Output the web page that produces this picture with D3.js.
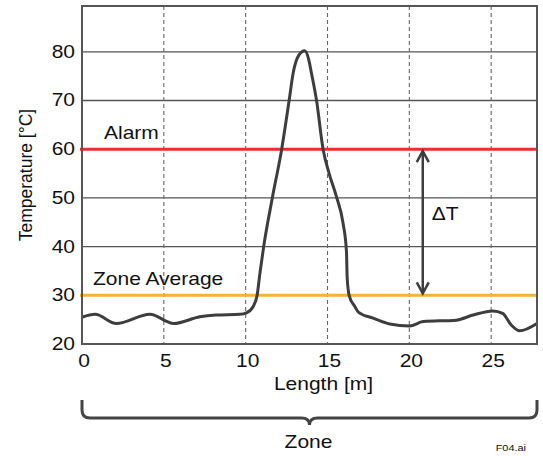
<!DOCTYPE html>
<html>
<head>
<meta charset="utf-8">
<script src="https://cdn.jsdelivr.net/npm/d3@7"></script>
<style>
  body { margin: 0; background: #fff; }
  text { font-family: "Liberation Sans", Arial, sans-serif; fill: #111; }
</style>
</head>
<body>
<div id="chart"></div>
<script>
// temperature profile along the cable
var lengths = [0, 0.8, 2.1, 4.15, 5.6, 7.2, 8.2, 9.65, 10.05, 10.46, 10.7, 10.87, 11.1, 11.64, 12.19, 12.66, 12.9, 13.25,
    13.61, 13.86, 14.02, 14.33, 14.73, 15.1, 15.55, 15.95, 16.16, 16.2, 16.32, 16.67, 16.9, 17.79, 18.8, 20.02, 20.84,
    22.87, 23.9, 25.1, 25.7, 26.23, 26.74, 27.8];
var temps = [25.5, 26.1, 24.2, 26.1, 24.2, 25.6, 25.95, 26.1, 26.4, 27.7, 30, 34.5, 40, 50.2, 59.8, 70.1, 75.6, 79.3,
    80.2, 78.3, 75.6, 70, 60, 55, 50.2, 44.8, 38.9, 33.8, 30, 27.7, 26.5, 25.3, 24.1, 23.7, 24.6,
    24.9, 25.95, 26.8, 26.3, 23.9, 22.7, 24.2];

var xTicks = [0, 5, 10, 15, 20, 25];
var yTicks = [20, 30, 40, 50, 60, 70, 80];
var xGrid = [5, 10, 15, 20, 25];
var yGrid = [40, 50, 70, 80];

var alarmLevel = 60;
var zoneAverage = 30;
var deltaAt = 20.82;

var width = 543, height = 456;
var margin = {top: 6, right: 6, bottom: 112, left: 82};
var w = width - margin.left - margin.right;
var h = height - margin.top - margin.bottom;

// the lettering in the figure is drawn a bit wider than normal
var stretch = 1.2;

var svg = d3.select("#chart").append("svg")
    .attr("width", width)
    .attr("height", height);

var g = svg.append("g").attr("transform", "translate(" + margin.left + "," + margin.top + ")");

// adds a horizontally stretched label
function label(parent, tx, ty, str, anchor, size) {
    return parent.append("text")
        .attr("transform", "translate(" + tx + "," + ty + ") scale(" + stretch + ",1)")
        .attr("text-anchor", anchor || "start")
        .attr("font-size", size || 17.5)
        .text(str);
}

var x = d3.scaleLinear().domain([0, 27.8]).range([0, w]);
var y = d3.scaleLinear().domain([20, 89.4]).range([h, 0]);

// grid lines
g.append("g").selectAll("line")
    .data(yGrid)
    .enter().append("line")
    .attr("x1", 0).attr("x2", w)
    .attr("y1", function(d) { return y(d); })
    .attr("y2", function(d) { return y(d); })
    .attr("stroke", "#555")
    .attr("stroke-width", 1.3);

g.append("g").selectAll("line")
    .data(xGrid)
    .enter().append("line")
    .attr("x1", function(d) { return x(d); })
    .attr("x2", function(d) { return x(d); })
    .attr("y1", 0).attr("y2", h)
    .attr("stroke", "#666")
    .attr("stroke-width", 1.1)
    .attr("stroke-dasharray", "4,3");

// alarm and zone average lines
g.append("line")
    .attr("x1", -2).attr("x2", w)
    .attr("y1", y(alarmLevel)).attr("y2", y(alarmLevel))
    .attr("stroke", "#ee2d2d")
    .attr("stroke-width", 3);

g.append("line")
    .attr("x1", -2).attr("x2", w)
    .attr("y1", y(zoneAverage)).attr("y2", y(zoneAverage))
    .attr("stroke", "#f8b130")
    .attr("stroke-width", 3);

label(g, 22, y(alarmLevel) - 10, "Alarm");
label(g, 11, y(zoneAverage) - 10, "Zone Average");

// temperature curve
var points = lengths.map(function(d, i) { return [d, temps[i]]; });
var line = d3.line()
    .x(function(d) { return x(d[0]); })
    .y(function(d) { return y(d[1]); })
    .curve(d3.curveMonotoneX);

g.append("path")
    .datum(points)
    .attr("d", line)
    .attr("fill", "none")
    .attr("stroke", "#3d3d3d")
    .attr("stroke-width", 3)
    .attr("stroke-linejoin", "round");

// delta T double arrow
var ax = x(deltaAt), ay1 = y(alarmLevel) + 2, ay2 = y(zoneAverage) - 2;
g.append("line")
    .attr("x1", ax).attr("x2", ax)
    .attr("y1", ay1).attr("y2", ay2)
    .attr("stroke", "#3d3d3d")
    .attr("stroke-width", 2.5);
g.append("path")
    .attr("d", "M" + (ax - 6) + "," + (ay1 + 11) + "L" + ax + "," + ay1 + "L" + (ax + 6) + "," + (ay1 + 11))
    .attr("fill", "none").attr("stroke", "#3d3d3d").attr("stroke-width", 2.5);
g.append("path")
    .attr("d", "M" + (ax - 6) + "," + (ay2 - 11) + "L" + ax + "," + ay2 + "L" + (ax + 6) + "," + (ay2 - 11))
    .attr("fill", "none").attr("stroke", "#3d3d3d").attr("stroke-width", 2.5);
label(g, ax + 9, y(45.4), "\u0394T");

// frame
g.append("rect")
    .attr("x", 0).attr("y", 0)
    .attr("width", w).attr("height", h)
    .attr("fill", "none")
    .attr("stroke", "#555")
    .attr("stroke-width", 2);

// tick labels
xTicks.forEach(function(d) {
    label(g, x(d) + 2, h + 23, d, "middle");
});
yTicks.forEach(function(d) {
    label(g, -7, y(d) + 6, d, "end");
});

// axis titles
label(g, w / 2 + 14, h + 46, "Length [m]", "middle");

g.append("text")
    .attr("transform", "translate(-50," + (h / 2) + ") rotate(-90)")
    .attr("text-anchor", "middle")
    .attr("font-size", 17.5)
    .text("Temperature [\u00b0C]");

// zone brace
var bx0 = x(0), bx1 = x(27.8), bc = x(13.9), by0 = h + 56, by1 = h + 74, r = 8;
g.append("path")
    .attr("d", "M" + bx0 + "," + by0 + "V" + (by1 - r) + "Q" + bx0 + "," + by1 + " " + (bx0 + r) + "," + by1 +
        "H" + (bc - 8) + "Q" + bc + "," + by1 + " " + bc + "," + (by1 + 7) +
        "Q" + bc + "," + by1 + " " + (bc + 8) + "," + by1 +
        "H" + (bx1 - r) + "Q" + bx1 + "," + by1 + " " + bx1 + "," + (by1 - r) + "V" + by0)
    .attr("fill", "none")
    .attr("stroke", "#444")
    .attr("stroke-width", 3);

label(g, bc - 1, h + 104, "Zone", "middle");

svg.append("text")
    .attr("transform", "translate(526,451) scale(1.15,1)")
    .attr("text-anchor", "end")
    .attr("font-size", 9.5)
    .attr("fill", "#222")
    .text("F04.ai");
</script>
</body>
</html>
